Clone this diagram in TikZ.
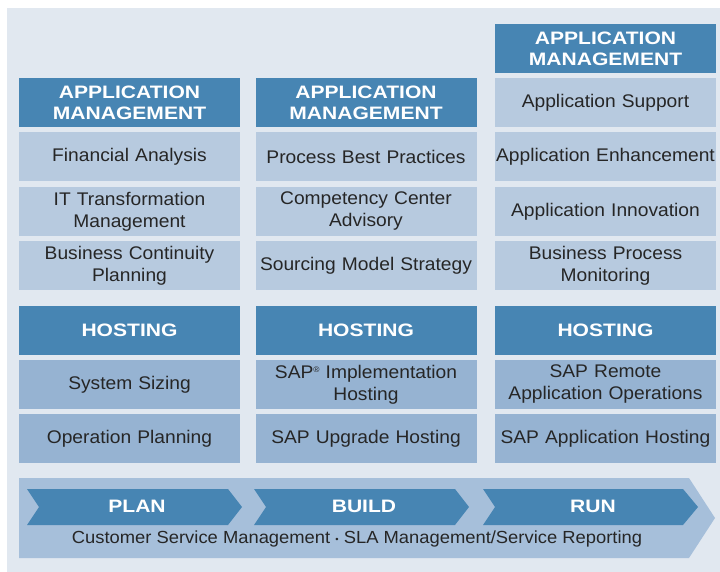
\documentclass[tikz,border=0pt]{standalone}
\usepackage{fontspec}
\setmainfont{Liberation Sans}
\newfontfamily\hdfont{Liberation Sans}[FakeStretch=1.17]
\newfontfamily\wdfont{Liberation Sans}[FakeStretch=1.05]
\usepackage{tikz}
\pgfdeclarelayer{background}
\pgfsetlayers{background,main}
\definecolor{panel}{HTML}{E1E8F0}
\definecolor{amblue}{HTML}{4785B3}
\definecolor{applight}{HTML}{B7CADF}
\definecolor{hostmid}{HTML}{96B3D2}
\definecolor{band}{HTML}{A6BFDA}
\tikzstyle{head}=[fill=amblue, text=white, inner sep=0pt,
    minimum width=221pt, minimum height=49pt, text width=215pt, align=center,
    font=\hdfont\bfseries\fontsize{18}{21}\selectfont]
\tikzstyle{app}=[fill=applight, text=black!85, inner sep=0pt,
    minimum width=221pt, minimum height=49pt, text width=219pt, align=center,
    font=\wdfont\fontsize{18.3}{22}\selectfont]
\tikzstyle{host}=[app, fill=hostmid]
\tikzstyle{phase}=[text=white, font=\hdfont\bfseries\fontsize{18}{21}\selectfont]

\begin{document}
\begin{tikzpicture}[x=1pt,y=-1pt]
  \useasboundingbox (0,0) rectangle (720,572);
  % column 1
  \node at (129.5,102.5) (am1)[head] {APPLICATION\\MANAGEMENT};
  \node at (129.5,156.5) (fa)[app] {Financial Analysis};
  \node at (129.5,211.5) (itm)[app] {IT Transformation\\Management};
  \node at (129.5,265.5) (bcp)[app] {Business Continuity\\Planning};
  \node at (129.5,330.5) (ho1)[head] {HOSTING};
  \node at (129.5,384.5) (ss)[host] {System Sizing};
  \node at (129.5,438.5) (op)[host] {Operation Planning};
  % column 2
  \node at (366,102.5) (am2)[head] {APPLICATION\\MANAGEMENT};
  \node at (366,156.5) (pbp)[app] {Process Best Practices};
  \node at (366,211.5) (cca)[app] {Competency Center\\Advisory};
  \node at (366,265.5) (sms)[app] {Sourcing Model Strategy};
  \node at (366,330.5) (ho2)[head] {HOSTING};
  \node at (366,384.5) (sih)[host] {SAP{\fontsize{8}{8}\selectfont\raisebox{6pt}{®}} Implementation\\Hosting};
  \node at (366,438.5) (suh)[host] {SAP Upgrade Hosting};
  % column 3
  \node at (605.5,48.5) (am3)[head] {APPLICATION\\MANAGEMENT};
  \node at (605.5,102.5) (as)[app] {Application Support};
  \node at (605.5,156.5) (ae)[app] {Application Enhancement};
  \node at (605.5,211.5) (ai)[app] {Application Innovation};
  \node at (605.5,265.5) (bpm)[app] {Business Process\\Monitoring};
  \node at (605.5,330.5) (ho3)[head] {HOSTING};
  \node at (605.5,384.5) (srao)[host] {SAP Remote\\Application Operations};
  \node at (605.5,438.5) (sah)[host] {SAP Application Hosting};

  % phase band
  \fill[band] (19,478) -- (689,478) -- (715,518) -- (689,558) -- (19,558) -- cycle;
  \fill[amblue] (27,489) -- (228,489) -- (242,507) -- (228,525) -- (27,525) -- (39,507) -- cycle;
  \fill[amblue] (254,489) -- (455,489) -- (469,507) -- (455,525) -- (254,525) -- (266,507) -- cycle;
  \fill[amblue] (483,489) -- (683,489) -- (698,507) -- (683,525) -- (483,525) -- (495,507) -- cycle;
  \node at (137,506) (plan)[phase] {PLAN};
  \node at (364,506) (build)[phase] {BUILD};
  \node at (593,506) (run)[phase] {RUN};
  \node[font=\wdfont\fontsize{17.5}{19}\selectfont, text=black!85] at (357,539) (csm)
    {Customer Service Management {\raisebox{1pt}{\small\textbullet}} SLA Management/Service Reporting};

  \begin{pgfonlayer}{background}
    \fill[panel] (7,8) rectangle (720,572);
  \end{pgfonlayer}
\end{tikzpicture}
\end{document}
